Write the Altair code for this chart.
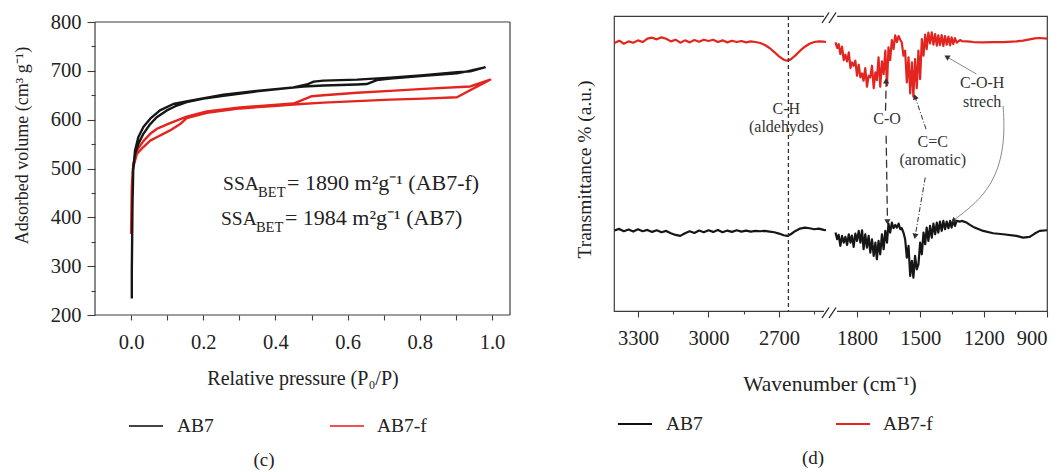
import altair as alt
import pandas as pd

FONT = "Liberation Serif"
INK = "#222222"
FRAME = "#3c3c3c"
RED = "#e3241f"
BLACK = "#161616"

# ---------------- panel (c): N2 adsorption-desorption isotherms ----------------
X_TICKS_C = [0.0, 0.1, 0.2, 0.3, 0.4, 0.5, 0.6, 0.7, 0.8, 0.9, 1.0]
Y_TICKS_C = [200, 250, 300, 350, 400, 450, 500, 550, 600, 650, 700, 750, 800]

# adsorption branch followed by desorption branch
AB7_P = [0.002, 0.002, 0.003, 0.004, 0.005, 0.006, 0.011, 0.020, 0.034, 0.053,
         0.071, 0.099, 0.127, 0.154, 0.201, 0.256, 0.348, 0.441, 0.478, 0.533,
         0.626, 0.653, 0.681, 0.718, 0.811, 0.903, 0.931, 0.980,
         0.940, 0.903, 0.811, 0.718, 0.626, 0.533, 0.506, 0.487, 0.450, 0.348,
         0.256, 0.164, 0.117, 0.080, 0.053, 0.034, 0.020, 0.011, 0.005]
AB7_V = [234, 290, 360, 434, 462, 503, 530, 550, 571, 591,
         605, 619, 629, 636, 643, 649, 658, 665, 668, 670,
         672, 673, 681, 684, 690, 695, 699, 707,
         699, 697, 691, 686, 682, 680, 678, 672, 666, 659,
         651, 639, 632, 619, 602, 585, 564, 537, 489]
AB7F_P = [0.000, 0.001, 0.002, 0.005, 0.016, 0.034, 0.053, 0.071, 0.108, 0.136,
          0.154, 0.210, 0.302, 0.395, 0.450, 0.533, 0.626, 0.718, 0.811, 0.903, 0.995,
          0.940, 0.811, 0.718, 0.626, 0.533, 0.501, 0.450, 0.302, 0.210, 0.154,
          0.108, 0.071, 0.053, 0.034, 0.016, 0.005]
AB7F_V = [366, 414, 462, 500, 530, 544, 557, 564, 578, 591,
          603, 614, 623, 628, 631, 635, 638, 641, 643, 646, 682,
          668, 663, 659, 655, 650, 648, 633, 625, 617, 606,
          593, 581, 571, 556, 537, 505]

SSA_X = [0.255, 0.249]
SSA_Y = [455, 384]
SSA_VALUE = ["= 1890 m\u00b2g\u207b\u00b9 (AB7-f)", "= 1984 m\u00b2g\u207b\u00b9 (AB7)"]

TITLE_X_C = "Relative pressure (P\u2080/P)"
TITLE_Y_C = "Adsorbed volume (cm\u00b3 g\u207b\u00b9)"
TITLE_X_D = "Wavenumber (cm\u207b\u00b9)"
TITLE_Y_D = "Transmittance % (a.u.)"

# ---------------- panel (d): FTIR spectra (broken wavenumber axis) ----------------
WN_TICKS = [3300, 3150, 3000, 2850, 2700, 2550, 1800, 1650, 1500, 1350, 1200, 1050, 900]
WN_BREAK_DOMAIN = [3402, 2483, 1928, 900]

WN_L = [3400, 3380, 3360, 3340, 3320, 3300, 3280, 3260, 3240, 3220,
        3200, 3180, 3160, 3140, 3120, 3100, 3080, 3060, 3040, 3020,
        3000, 2980, 2960, 2940, 2920, 2900, 2880, 2860, 2840, 2820,
        2800, 2780, 2760, 2740, 2720, 2700, 2680, 2665, 2650, 2630,
        2610, 2590, 2570, 2550, 2530, 2510, 2500]
AB7F_TL = [803, 810, 801, 808, 804, 811, 806, 816, 819, 814,
           820, 816, 808, 813, 804, 811, 805, 812, 807, 813,
           809, 813, 806, 811, 805, 810, 806, 809, 805, 808,
           806, 803, 797, 788, 776, 763, 753, 750, 754, 766,
           780, 792, 801, 806, 808, 807, 806]
AB7_TL = [241, 246, 239, 244, 238, 245, 239, 243, 237, 242,
          236, 240, 233, 228, 225, 233, 239, 234, 241, 236,
          242, 237, 243, 236, 241, 237, 242, 238, 241, 238,
          240, 239, 240, 238, 236, 232, 227, 225, 230, 240,
          247, 250, 248, 245, 247, 243, 242]

WN_R = [1902, 1894, 1887, 1879, 1871, 1863, 1855, 1847, 1839, 1831,
        1824, 1816, 1808, 1800, 1792, 1784, 1776, 1769, 1761, 1753,
        1745, 1737, 1729, 1721, 1713, 1706, 1698, 1690, 1682, 1674,
        1666, 1658, 1651, 1643, 1635, 1627, 1619, 1611, 1603, 1595,
        1588, 1580, 1572, 1564, 1556, 1548, 1540, 1533, 1525, 1517,
        1509, 1501, 1493, 1485, 1477, 1470, 1462, 1454, 1446, 1438,
        1430, 1422, 1415, 1407, 1399, 1391, 1383, 1375, 1367, 1359,
        1352, 1344, 1336, 1328, 1312, 1304, 1281, 1265, 1249, 1202,
        1155, 1108, 1045, 1013, 982, 958, 935, 900]
AB7F_TR = [805, 788, 800, 770, 792, 752, 768, 748, 775, 728,
           745, 735, 750, 705, 738, 700, 712, 690, 728, 672,
           705, 700, 735, 668, 715, 692, 760, 672, 748, 710,
           780, 676, 790, 752, 812, 785, 826, 806, 824, 812,
           805, 765, 780, 685, 760, 652, 745, 642, 755, 668,
           780, 695, 815, 765, 828, 785, 834, 802, 835, 798,
           830, 795, 826, 797, 827, 794, 824, 798, 822, 796,
           820, 800, 818, 804, 812, 809, 808, 807, 806, 805,
           806, 806, 808, 810, 814, 817, 818, 816]
AB7_TR = [235, 215, 228, 195, 225, 205, 222, 198, 230, 205,
          226, 192, 232, 210, 240, 205, 242, 185, 230, 190,
          225, 175, 215, 165, 205, 155, 210, 170, 230, 185,
          240, 205, 262, 235, 265, 248, 258, 250, 262, 245,
          248, 235, 215, 160, 195, 105, 150, 100, 165, 125,
          140, 205, 170, 235, 200, 250, 210, 255, 220, 262,
          230, 265, 235, 268, 240, 270, 245, 268, 248, 270,
          250, 272, 255, 270, 268, 270, 265, 258, 252, 240,
          233, 230, 225, 220, 222, 232, 240, 242]

CH_WN = 2660
LABEL_WN = [2669, 2669, 1658, 1441, 1441, 1207, 1207]
LABEL_T = [605, 550, 575, 505, 452, 682, 625]
LABEL_TEXT = ["C-H", "(aldehydes)", "C-O", "C=C", "(aromatic)", "C-O-H", "strech"]

ARROW_CO_ID = ["up", "up", "down", "down"]
ARROW_CO_WN = [1665, 1662, 1662, 1656]
ARROW_CO_T = [600, 684, 525, 274]
ARROW_CC_ID = ["up", "up", "down", "down"]
ARROW_CC_WN = [1473, 1522, 1477, 1523]
ARROW_CC_T = [545, 636, 400, 230]
ARROW_COH_ID = ["a", "a", "b", "b", "b", "b", "b"]
ARROW_COH_WN = [1234, 1370, 1108, 1100, 1123, 1202, 1340]
ARROW_COH_T = [710, 760, 615, 530, 430, 340, 273]
HEAD_WN = [1662, 1656, 1525, 1525, 1375, 1344]
HEAD_T = [690, 267, 642, 224, 762, 270]
HEAD_ANGLE = [0, 180, 341, 190, 300, 232]

# ---------------- build ----------------
one = pd.DataFrame({"a": [0]})

def seq_frame(x, y):
    return pd.DataFrame({"x": x, "y": y, "idx": list(range(len(x)))})

def text_at(x, y, t, size, angle=0, color=INK):
    props = dict(align="center", baseline="middle", font=FONT, fontSize=size, color=color)
    if angle:
        props["angle"] = angle
    return alt.Chart(one).mark_text(**props).encode(
        x=alt.value(x), y=alt.value(y), text=alt.value(t))

# left panel: chart area is 6px taller than its frame (frame top at y=6)
LH, LTOP, LW = 299, 6, 415
XS_C = alt.Scale(domain=[-0.1, 1.05], nice=False, zero=False)
YS_C = alt.Scale(domain=[200, 800 + 600 * LTOP / (LH - LTOP)], nice=False, zero=False)
AX_XC = alt.Axis(values=X_TICKS_C,
                 labelExpr="round(datum.value*10) % 2 === 0 ? format(datum.value, '.1f') : ''",
                 title=None, tickSize=5, labelPadding=12)
AX_YC = alt.Axis(values=Y_TICKS_C, labelExpr="datum.value % 100 === 0 ? datum.label : ''",
                 title=None,
                 tickSize={"condition": {"test": "datum.value % 100 === 0", "value": 8}, "value": 4},
                 labelPadding=6)

def enc_c(ch):
    return ch.encode(x=alt.X("x:Q", scale=XS_C, axis=AX_XC),
                     y=alt.Y("y:Q", scale=YS_C, axis=AX_YC))

iso_red = enc_c(alt.Chart(seq_frame(AB7F_P, AB7F_V)).mark_line(
    color=RED, strokeWidth=2.4, strokeJoin="round")).encode(order="idx:Q")
iso_blk = enc_c(alt.Chart(seq_frame(AB7_P, AB7_V)).mark_line(
    color=BLACK, strokeWidth=2.4, strokeJoin="round")).encode(order="idx:Q")

ssa_df = pd.DataFrame({"x": SSA_X, "y": SSA_Y, "val": SSA_VALUE})
ssa1 = enc_c(alt.Chart(ssa_df).mark_text(align="left", baseline="alphabetic", font=FONT,
                                          fontSize=19.5, color=INK)).encode(text=alt.value("SSA"))
ssa2 = enc_c(alt.Chart(ssa_df).mark_text(align="left", baseline="alphabetic", font=FONT,
                                          fontSize=14.5, color=INK, dx=35, dy=7)).encode(text=alt.value("BET"))
ssa3 = enc_c(alt.Chart(ssa_df).mark_text(align="left", baseline="alphabetic", font=FONT,
                                          fontSize=22, color=INK, dx=64)).encode(text="val:N")

def frame_rules(top, bottom, width):
    segs = [(0, top, width, top), (0, bottom, width, bottom), (0, top, 0, bottom), (width, top, width, bottom)]
    return [alt.Chart(one).mark_rule(color=FRAME, strokeWidth=1.2).encode(
        x=alt.value(a), y=alt.value(b), x2=alt.value(c), y2=alt.value(d)) for a, b, c, d in segs]

def legend_layers(x0, y0, xr0, cblack, cred):
    rb = alt.Chart(one).mark_rule(color=cblack, strokeWidth=2).encode(
        x=alt.value(x0), x2=alt.value(x0 + 34), y=alt.value(y0))
    tb = alt.Chart(one).mark_text(align="left", baseline="middle", font=FONT, fontSize=19.5,
                                  color=INK).encode(x=alt.value(x0 + 48), y=alt.value(y0),
                                                    text=alt.value("AB7"))
    rr = alt.Chart(one).mark_rule(color=cred, strokeWidth=2).encode(
        x=alt.value(xr0), x2=alt.value(xr0 + 34), y=alt.value(y0))
    tr = alt.Chart(one).mark_text(align="left", baseline="middle", font=FONT, fontSize=19.5,
                                  color=INK).encode(x=alt.value(xr0 + 47), y=alt.value(y0),
                                                    text=alt.value("AB7-f"))
    return [rb, tb, rr, tr]

def spacer(y):
    return alt.Chart(one).mark_point(opacity=0, size=1).encode(x=alt.value(0), y=alt.value(y))

left = alt.layer(iso_red, iso_blk, ssa1, ssa2, ssa3, *frame_rules(LTOP, LH, LW),
                 text_at(208, 362.5, TITLE_X_C, 20),
                 text_at(-72, 129.5, TITLE_Y_C, 18, angle=270),
                 *legend_layers(34, 410, 235, "#444444", "#ef5350"),
                 text_at(169, 444, "(c)", 19)).properties(
    width=LW, height=LH, view=alt.ViewBackground(stroke="transparent"))

# ---- panel (d)
XS_D = alt.Scale(domain=WN_BREAK_DOMAIN, range=[0, 216, 216, 433], nice=False, zero=False)
YS_D = alt.Scale(domain=[0, 884], nice=False, zero=False)
AX_XD = alt.Axis(values=WN_TICKS, labelExpr="datum.value % 300 === 0 ? format(datum.value, 'd') : ''",
                 title=None,
                 tickSize={"condition": {"test": "datum.value % 300 === 0", "value": 6}, "value": 3},
                 labelPadding=11, labelFlush=True)
AX_YD = alt.Axis(title=None, labels=False, ticks=False)

def enc_d(ch):
    return ch.encode(x=alt.X("x:Q", scale=XS_D, axis=AX_XD),
                     y=alt.Y("y:Q", scale=YS_D, axis=AX_YD))

def spec_frame(xl, yl, xr, yr):
    n = len(xl)
    return pd.DataFrame({"x": list(xl) + list(xr), "y": list(yl) + list(yr),
                         "seg": ["L"] * n + ["R"] * len(xr),
                         "idx": list(range(n + len(xr)))})

sp_red = enc_d(alt.Chart(spec_frame(WN_L, AB7F_TL, WN_R, AB7F_TR)).mark_line(
    color=RED, strokeWidth=2.2, strokeJoin="round")).encode(detail="seg:N", order="idx:Q")
sp_blk = enc_d(alt.Chart(spec_frame(WN_L, AB7_TL, WN_R, AB7_TR)).mark_line(
    color=BLACK, strokeWidth=2.2, strokeJoin="round")).encode(detail="seg:N", order="idx:Q")

ch_rule = alt.Chart(pd.DataFrame({"x": [CH_WN]})).mark_rule(
    color="#333333", strokeDash=[4, 3], strokeWidth=1.3).encode(
    x=alt.X("x:Q", scale=XS_D, axis=AX_XD))

labels = enc_d(alt.Chart(pd.DataFrame({"x": LABEL_WN, "y": LABEL_T, "t": LABEL_TEXT})).mark_text(
    font=FONT, fontSize=16, color="#333333", align="center", baseline="middle")).encode(text="t:N")

def arrow_frame(ids, xs, ys):
    return pd.DataFrame({"id": ids, "x": xs, "y": ys, "idx": list(range(len(xs)))})

arr_co = enc_d(alt.Chart(arrow_frame(ARROW_CO_ID, ARROW_CO_WN, ARROW_CO_T)).mark_line(
    color="#333333", strokeWidth=1.3, strokeDash=[8, 4])).encode(detail="id:N", order="idx:Q")
arr_cc = enc_d(alt.Chart(arrow_frame(ARROW_CC_ID, ARROW_CC_WN, ARROW_CC_T)).mark_line(
    color="#444444", strokeWidth=1.1, strokeDash=[5, 2, 1, 2])).encode(detail="id:N", order="idx:Q")
arr_coh = enc_d(alt.Chart(arrow_frame(ARROW_COH_ID, ARROW_COH_WN, ARROW_COH_T)).mark_line(
    color="#8a8a8a", strokeWidth=1.0, interpolate="basis")).encode(detail="id:N", order="idx:Q")
heads = enc_d(alt.Chart(pd.DataFrame({"x": HEAD_WN, "y": HEAD_T, "a": HEAD_ANGLE})).mark_point(
    shape="triangle-up", filled=True, size=38, color="#333333", opacity=1)).encode(
    angle=alt.Angle("a:Q", scale=None))

def break_marks(yc):
    cover = alt.Chart(one).mark_rect(color="white").encode(
        x=alt.value(210), x2=alt.value(223), y=alt.value(yc - 2), y2=alt.value(yc + 2))
    s1 = alt.Chart(one).mark_rule(color="#222222", strokeWidth=1.3).encode(
        x=alt.value(208), y=alt.value(yc + 7), x2=alt.value(215), y2=alt.value(yc - 3.5))
    s2 = alt.Chart(one).mark_rule(color="#222222", strokeWidth=1.3).encode(
        x=alt.value(215), y=alt.value(yc + 7), x2=alt.value(222), y2=alt.value(yc - 3.5))
    return [cover, s1, s2]

right = alt.layer(sp_red, sp_blk, ch_rule, arr_co, arr_cc, arr_coh, heads, labels,
                  *break_marks(0), *break_marks(295),
                  text_at(216, 368.5, TITLE_X_D, 21.5),
                  text_at(-29, 153.5, TITLE_Y_D, 19.5, angle=270),
                  *legend_layers(4, 408, 222, "#111111", "#e3241f"),
                  text_at(199, 442, "(d)", 19), spacer(-6)).properties(width=433, height=295)

chart = alt.hconcat(left, right, spacing=62).properties(
    padding={"left": 5, "top": 0, "right": 0, "bottom": 0}
).configure_view(stroke=FRAME, strokeWidth=1.2).configure_axis(
    labelFont=FONT, labelFontSize=20.5, labelColor=INK,
    tickColor=FRAME, tickWidth=1.1, grid=False, domain=False)

chart.save("out.html", embed_options={"renderer": "svg", "actions": False})
